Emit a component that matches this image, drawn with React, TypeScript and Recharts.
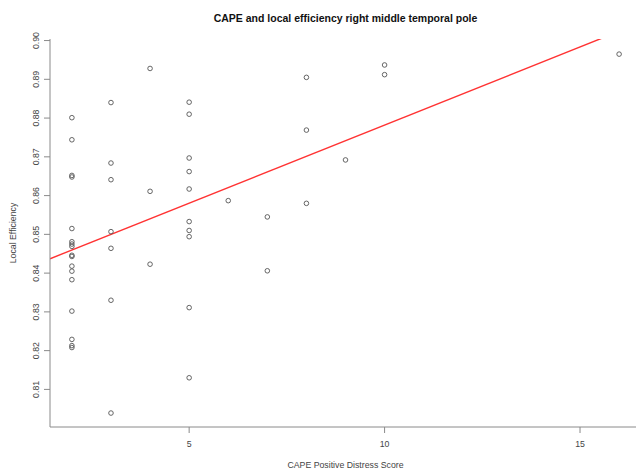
import React from "react";
import { ScatterChart, Scatter, XAxis, YAxis, ReferenceLine, Label } from "recharts";

// CAPE positive distress score per subject
const distressScores = [
  2, 2, 2, 2, 2, 2, 2, 2, 2, 2, 2, 2, 2, 2, 2, 2, 2,
  3, 3, 3, 3, 3, 3, 3,
  4, 4, 4,
  5, 5, 5, 5, 5, 5, 5, 5, 5, 5,
  6,
  7, 7,
  8, 8, 8,
  9,
  10, 10,
  16,
];

// local efficiency, right middle temporal pole
const localEfficiency = [
  0.8801, 0.8744, 0.8652, 0.8648, 0.8515, 0.8481, 0.8475, 0.8469, 0.8446, 0.8443, 0.8418, 0.8405, 0.8383, 0.8302, 0.8229, 0.8213, 0.8208,
  0.884, 0.8684, 0.8641, 0.8507, 0.8464, 0.833, 0.8039,
  0.8928, 0.8611, 0.8423,
  0.8841, 0.881, 0.8697, 0.8662, 0.8617, 0.8533, 0.851, 0.8494, 0.8311, 0.813,
  0.8587,
  0.8545, 0.8406,
  0.8905, 0.8769, 0.858,
  0.8692,
  0.8937, 0.8912,
  0.8965,
];

const xTicks = [5, 10, 15];
const yTicks = [0.81, 0.82, 0.83, 0.84, 0.85, 0.86, 0.87, 0.88, 0.89, 0.9];
const xDomain = [1.44, 16.56];
const yDomain = [0.8003, 0.9004];

// least squares fit
const fitIntercept = 0.8379;
const fitSlope = 0.00403;

const points = distressScores.map((x, i) => ({ x, y: localEfficiency[i] }));
const fitSegment = xDomain.map((x) => ({ x, y: fitIntercept + fitSlope * x }));

const FONT = "'Liberation Sans', Arial, Helvetica, sans-serif";
const AXIS = "#8a8a8a";
const TEXT = "#444";

const XTick = ({ x, payload }: any) => (
  <text x={x} y={444} textAnchor="middle" dominantBaseline="central" fontSize={8.75} fontFamily={FONT} fill={TEXT}>
    {payload.value}
  </text>
);

const YTick = ({ y, payload }: any) => (
  <text
    x={36}
    y={y}
    transform={`rotate(-90 36 ${y})`}
    textAnchor="middle"
    dominantBaseline="central"
    fontSize={8.75}
    fontFamily={FONT}
    fill={TEXT}
  >
    {payload.value.toFixed(2)}
  </text>
);

const Dot = (p: any) => <circle cx={p.cx} cy={p.cy} r={2.3} fill="none" stroke="#555" strokeWidth={0.9} />;

export default function App() {
  return (
    <div style={{ position: "absolute", left: 0, top: 0, width: 636, height: 469, overflow: "hidden", background: "#fff" }}>
      <ScatterChart width={650} height={469} margin={{ top: 39, right: 9, bottom: 0, left: 6 }}>
        <XAxis
          type="number"
          dataKey="x"
          domain={xDomain}
          ticks={xTicks}
          allowDataOverflow
          height={42}
          stroke={AXIS}
          tickSize={6}
          tick={<XTick />}
        >
          <Label
            content={({ viewBox }: any) => (
              <g>
                <text x={viewBox.x + viewBox.width / 2} y={465} textAnchor="middle" dominantBaseline="central" fontSize={8.75} fontFamily={FONT} fill={TEXT}>
                  CAPE Positive Distress Score
                </text>
                <text x={viewBox.x + viewBox.width / 2} y={18} textAnchor="middle" dominantBaseline="central" fontSize={10.5} fontWeight="bold" fontFamily={FONT} fill="#111">
                  CAPE and local efficiency right middle temporal pole
                </text>
              </g>
            )}
          />
        </XAxis>
        <YAxis
          type="number"
          dataKey="y"
          domain={yDomain}
          ticks={yTicks}
          allowDataOverflow
          width={44}
          stroke={AXIS}
          tickSize={6}
          tick={<YTick />}
        >
          <Label
            content={({ viewBox }: any) => {
              const cy = viewBox.y + viewBox.height / 2;
              return (
                <text x={13} y={cy} transform={`rotate(-90 13 ${cy})`} textAnchor="middle" dominantBaseline="central" fontSize={8.75} fontFamily={FONT} fill={TEXT}>
                  Local Efficiency
                </text>
              );
            }}
          />
        </YAxis>
        <ReferenceLine segment={fitSegment} ifOverflow="hidden" stroke="#f33" strokeWidth={1.4} />
        <Scatter data={points} shape={Dot} isAnimationActive={false} />
      </ScatterChart>
    </div>
  );
}
